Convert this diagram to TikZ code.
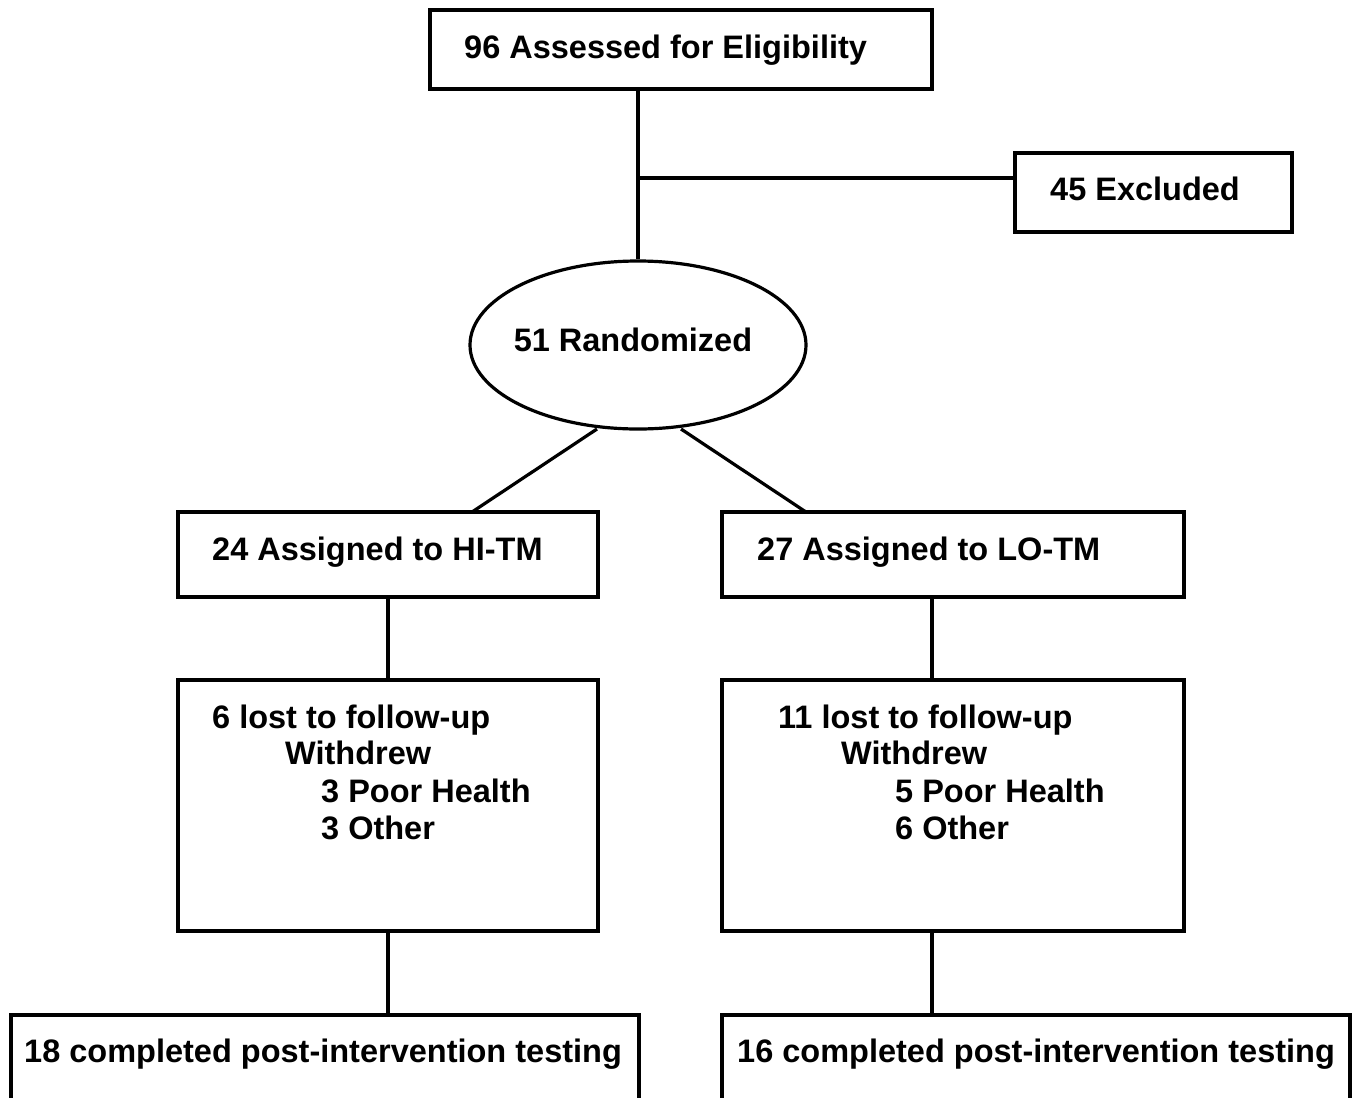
\documentclass[tikz,border=0pt]{standalone}
\usepackage{fontspec}
\setmainfont{Liberation Sans}
\usetikzlibrary{shapes.geometric}
\begin{document}
\begin{tikzpicture}[x=1pt,y=-1pt,
  box/.style={draw,line width=3.2pt,rectangle,inner sep=0pt},
  conn/.style={line width=3.2pt},
  txt/.style={inner sep=0pt,font=\fontsize{32.5}{36}\selectfont\bfseries}]
\useasboundingbox (0,0) rectangle (1358,1098);
\clip (0,0) rectangle (1358,1098);
% boxes
\node[box,minimum width=502pt,minimum height=79pt] (top) at (681,49.5) {};
\node[box,minimum width=277pt,minimum height=79pt] (excl) at (1153.5,192.5) {};
\node[draw,line width=3.2pt,ellipse,minimum width=336pt,minimum height=168pt,inner sep=0pt] (rand) at (638,345) {};
\node[box,minimum width=420pt,minimum height=85pt] (hi) at (388,554.5) {};
\node[box,minimum width=462pt,minimum height=85pt] (lo) at (953,554.5) {};
\node[box,minimum width=420pt,minimum height=251pt] (lhi) at (388,805.5) {};
\node[box,minimum width=462pt,minimum height=251pt] (llo) at (953,805.5) {};
\node[box,minimum width=628pt,minimum height=100pt] (chi) at (325,1065) {};
\node[box,minimum width=628pt,minimum height=100pt] (clo) at (1036,1065) {};
% texts
\node[txt,anchor=base west] (t1) at (464,58) {96 Assessed for Eligibility};
\node[txt,anchor=base west] (t2) at (1050,200) {45 Excluded};
\node[txt,anchor=base] (t3) at (633,351) {51 Randomized};
\node[txt,anchor=base west] (t4) at (212,560) {24 Assigned to HI-TM};
\node[txt,anchor=base west] (t5) at (757,560) {27 Assigned to LO-TM};
\node[txt,anchor=base west] (t6) at (212,728) {6 lost to follow-up};
\node[txt,anchor=base west] (t7) at (285,764) {Withdrew};
\node[txt,anchor=base west] (t8) at (321,802) {3 Poor Health};
\node[txt,anchor=base west] (t9) at (321,839) {3 Other};
\node[txt,anchor=base west] (t10) at (778,728) {11 lost to follow-up};
\node[txt,anchor=base west] (t11) at (841,764) {Withdrew};
\node[txt,anchor=base west] (t12) at (895,802) {5 Poor Health};
\node[txt,anchor=base west] (t13) at (895,839) {6 Other};
\node[txt,anchor=base west] (t14) at (24,1062) {18 completed post-intervention testing};
\node[txt,anchor=base west] (t15) at (737,1062) {16 completed post-intervention testing};
% connectors
\coordinate (br) at (638,178);
\draw[conn] (top.south -| rand.north) -- (rand.north);
\draw[conn] (br) -- (excl.west |- br);
\draw[conn] (597,429) coordinate (rl) -- (472,512) coordinate (hl);
\draw[conn] (681,429) coordinate (rr) -- (806,512) coordinate (lr);
\draw[conn] (hi.south) -- (lhi.north);
\draw[conn] (lo.south -| 932,0) -- (llo.north -| 932,0);
\draw[conn] (lhi.south) -- (chi.north -| lhi.south);
\draw[conn] (llo.south -| 932,0) -- (clo.north -| 932,0);
\end{tikzpicture}
\end{document}
